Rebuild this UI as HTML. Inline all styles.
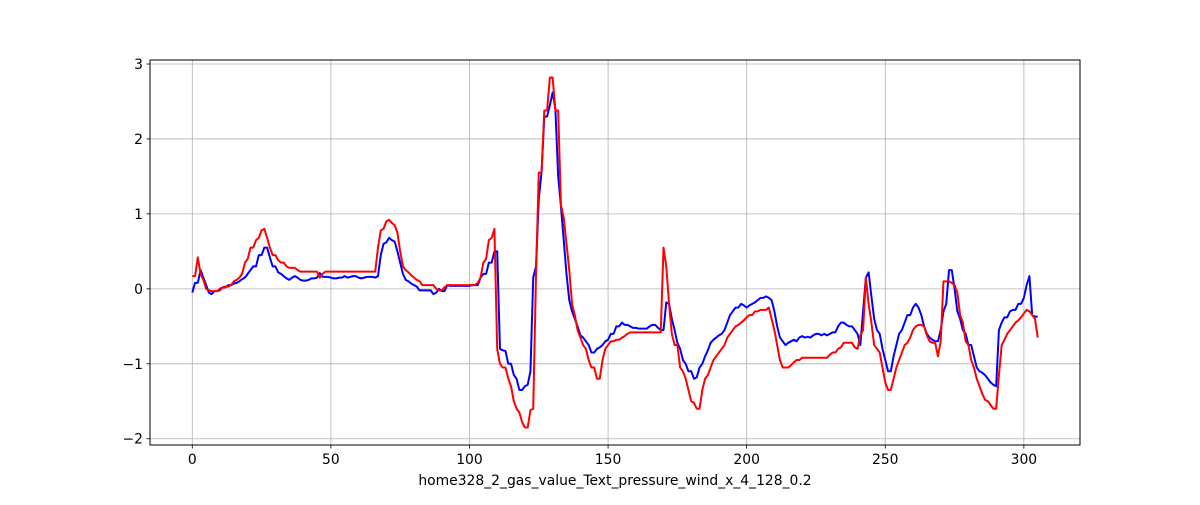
<!DOCTYPE html>
<html><head><meta charset="utf-8"><style>
body{margin:0;background:#fff;}
svg text{font-family:"DejaVu Sans","Liberation Sans",sans-serif;font-size:13.9px;fill:#000;}
</style></head><body>
<svg id="chart" width="1200" height="500" xmlns="http://www.w3.org/2000/svg">
<rect width="1200" height="500" fill="#fff"/>
<g id="grid"></g>
<g id="lines"></g>
<rect x="150" y="60" width="930" height="385" fill="none" stroke="#000" stroke-width="1"/>
<g id="ticks"></g>
<text x="615" y="485" text-anchor="middle">home328_2_gas_value_Text_pressure_wind_x_4_128_0.2</text>
</svg>
<script>
const xTicks=[0,50,100,150,200,250,300];
const yTicks=[-2,-1,0,1,2,3];
const yTickLabels=["−2","−1","0","1","2","3"];
const blueValues=[-0.05,0.08,0.08,0.25,0.15,0.05,-0.05,-0.07,-0.03,-0.03,
0,0.02,0.02,0.05,0.05,0.07,0.08,0.1,0.13,0.15,
0.2,0.25,0.3,0.3,0.45,0.45,0.55,0.55,0.42,0.3,
0.3,0.22,0.2,0.17,0.14,0.12,0.15,0.17,0.15,0.12,
0.11,0.11,0.12,0.14,0.14,0.15,0.21,0.16,0.16,0.16,
0.15,0.14,0.14,0.15,0.15,0.17,0.15,0.16,0.17,0.17,
0.15,0.14,0.15,0.16,0.16,0.16,0.15,0.17,0.45,0.6,
0.62,0.68,0.65,0.63,0.5,0.35,0.2,0.12,0.1,0.07,
0.05,0.03,-0.02,-0.02,-0.02,-0.02,-0.02,-0.07,-0.05,0,
-0.03,-0.03,0.05,0.04,0.04,0.04,0.04,0.04,0.04,0.04,
0.04,0.05,0.05,0.05,0.15,0.2,0.2,0.35,0.35,0.5,
0.5,-0.8,-0.82,-0.83,-1,-1,-1.15,-1.2,-1.35,-1.35,
-1.3,-1.28,-1.1,0.15,0.3,1.2,1.55,2.3,2.3,2.45,
2.62,2.4,1.5,1.1,0.65,0.2,-0.15,-0.3,-0.4,-0.5,
-0.62,-0.65,-0.7,-0.75,-0.85,-0.85,-0.8,-0.78,-0.75,-0.7,
-0.68,-0.6,-0.6,-0.5,-0.5,-0.45,-0.48,-0.48,-0.5,-0.52,
-0.52,-0.53,-0.53,-0.53,-0.53,-0.5,-0.48,-0.48,-0.52,-0.55,
-0.55,-0.18,-0.2,-0.4,-0.55,-0.72,-0.8,-0.95,-1,-1.1,
-1.1,-1.2,-1.18,-1.05,-1,-0.9,-0.82,-0.72,-0.68,-0.65,
-0.62,-0.6,-0.55,-0.45,-0.35,-0.3,-0.25,-0.25,-0.2,-0.22,
-0.25,-0.22,-0.2,-0.18,-0.15,-0.12,-0.12,-0.1,-0.12,-0.15,
-0.3,-0.5,-0.65,-0.7,-0.75,-0.72,-0.7,-0.68,-0.7,-0.65,
-0.63,-0.65,-0.64,-0.65,-0.62,-0.6,-0.6,-0.62,-0.6,-0.62,
-0.6,-0.58,-0.58,-0.5,-0.45,-0.45,-0.48,-0.5,-0.5,-0.55,
-0.6,-0.75,-0.3,0.15,0.22,-0.1,-0.4,-0.55,-0.6,-0.8,
-0.95,-1.1,-1.1,-0.9,-0.75,-0.6,-0.55,-0.45,-0.35,-0.35,
-0.25,-0.2,-0.25,-0.35,-0.5,-0.6,-0.65,-0.68,-0.7,-0.7,
-0.55,-0.3,-0.2,0.25,0.25,0,-0.3,-0.4,-0.55,-0.6,
-0.75,-0.75,-0.9,-1.05,-1.1,-1.12,-1.15,-1.2,-1.25,-1.28,
-1.3,-0.55,-0.45,-0.38,-0.38,-0.3,-0.28,-0.28,-0.2,-0.2,
-0.12,0.05,0.17,-0.35,-0.37,-0.37];
const redValues=[0.17,0.17,0.42,0.2,0.12,0,-0.02,-0.03,-0.03,-0.03,
-0.02,0.02,0.03,0.03,0.05,0.1,0.12,0.15,0.2,0.35,
0.4,0.55,0.55,0.65,0.68,0.78,0.8,0.68,0.55,0.45,
0.45,0.38,0.35,0.35,0.3,0.28,0.28,0.28,0.25,0.23,
0.23,0.23,0.23,0.23,0.23,0.23,0.15,0.2,0.23,0.23,
0.23,0.23,0.23,0.23,0.23,0.23,0.23,0.23,0.23,0.23,
0.23,0.23,0.23,0.23,0.23,0.23,0.23,0.55,0.78,0.8,
0.9,0.92,0.88,0.85,0.75,0.5,0.3,0.25,0.22,0.18,
0.15,0.12,0.1,0.05,0.05,0.05,0.05,0.05,0,-0.02,
-0.02,0.02,0.05,0.05,0.05,0.05,0.05,0.05,0.05,0.05,
0.05,0.05,0.05,0.08,0.15,0.35,0.4,0.65,0.68,0.8,
-0.8,-1,-1.05,-1.05,-1.2,-1.3,-1.5,-1.6,-1.65,-1.78,
-1.85,-1.85,-1.62,-1.6,0.18,1.55,1.55,2.38,2.38,2.82,
2.82,2.38,2.38,1.12,0.95,0.6,0.25,-0.2,-0.35,-0.55,
-0.65,-0.75,-0.8,-0.95,-1.05,-1.05,-1.2,-1.2,-0.95,-0.8,
-0.75,-0.7,-0.7,-0.68,-0.68,-0.65,-0.63,-0.6,-0.58,-0.58,
-0.58,-0.58,-0.58,-0.58,-0.58,-0.58,-0.58,-0.58,-0.58,-0.58,
0.55,0.3,-0.2,-0.6,-0.75,-0.75,-1.05,-1.1,-1.2,-1.35,
-1.5,-1.52,-1.6,-1.6,-1.35,-1.2,-1.15,-1.05,-0.95,-0.9,
-0.85,-0.8,-0.75,-0.65,-0.6,-0.55,-0.5,-0.48,-0.45,-0.42,
-0.38,-0.35,-0.35,-0.3,-0.3,-0.28,-0.28,-0.28,-0.25,-0.4,
-0.55,-0.75,-0.95,-1.05,-1.05,-1.05,-1.02,-0.98,-0.95,-0.95,
-0.92,-0.92,-0.92,-0.92,-0.92,-0.92,-0.92,-0.92,-0.92,-0.92,
-0.88,-0.85,-0.85,-0.8,-0.78,-0.72,-0.72,-0.72,-0.72,-0.78,
-0.8,-0.62,-0.55,0.15,-0.2,-0.45,-0.75,-0.8,-0.85,-1.05,
-1.25,-1.35,-1.35,-1.2,-1.05,-0.95,-0.85,-0.75,-0.72,-0.65,
-0.55,-0.5,-0.48,-0.48,-0.5,-0.62,-0.7,-0.72,-0.72,-0.9,
-0.7,0.1,0.1,0.1,0.08,0.05,-0.05,-0.35,-0.45,-0.7,
-0.75,-0.95,-1.05,-1.2,-1.3,-1.4,-1.48,-1.5,-1.55,-1.6,
-1.6,-1.15,-0.75,-0.68,-0.6,-0.55,-0.5,-0.45,-0.42,-0.38,
-0.33,-0.28,-0.3,-0.35,-0.4,-0.65];

const NS="http://www.w3.org/2000/svg";
const L=150,R=1080,T=60,B=445;
const n=Math.max(blueValues.length,redValues.length);
const xMin=-(n-1)*0.05,xMax=(n-1)*1.05;
const allV=blueValues.concat(redValues);
const vMin=Math.min(...allV),vMax=Math.max(...allV),pad=(vMax-vMin)*0.05;
const yMin=vMin-pad,yMax=vMax+pad;
function sx(v){return L+(v-xMin)/(xMax-xMin)*(R-L);}
function sy(v){return B-(v-yMin)/(yMax-yMin)*(B-T);}
const grid=document.getElementById('grid'),ticks=document.getElementById('ticks'),lines=document.getElementById('lines');
function mk(tag,attrs,parent){const e=document.createElementNS(NS,tag);for(const k in attrs)e.setAttribute(k,attrs[k]);parent.appendChild(e);return e;}
xTicks.forEach(t=>{
  const x=sx(t);
  const g=mk('line',{x1:x,x2:x,y1:T,y2:B,stroke:'#b0b0b0','stroke-width':0.8},grid);
  
  
  const tk=mk('line',{x1:x,x2:x,y1:B,y2:B+3.5,stroke:'#000','stroke-width':0.8},ticks);
  
  
  const tx=mk('text',{x:x,y:B+19,'text-anchor':'middle'},ticks);
  tx.textContent=String(t);
  
  
});
yTicks.forEach((t,i)=>{
  const y=sy(t);
  const g=mk('line',{x1:L,x2:R,y1:y,y2:y,stroke:'#b0b0b0','stroke-width':0.8},grid);
  
  
  const tk=mk('line',{x1:L-3.5,x2:L,y1:y,y2:y,stroke:'#000','stroke-width':0.8},ticks);
  
  
  const tx=mk('text',{x:L-7,y:y+5,'text-anchor':'end'},ticks);
  tx.textContent=yTickLabels[i];
  
  
});
function drawSeries(vals,color,name){
  const d=vals.map((v,i)=>(i?'L':'M')+sx(i).toFixed(2)+' '+sy(v).toFixed(2)).join(' ');
  const p=mk('path',{d:d,fill:'none',stroke:color,'stroke-width':2,'stroke-linejoin':'round'},lines);
  
  
}
drawSeries(blueValues,'#0000ff','blue-series-line');
drawSeries(redValues,'#ff0000','red-series-line');
</script>
</body></html>
